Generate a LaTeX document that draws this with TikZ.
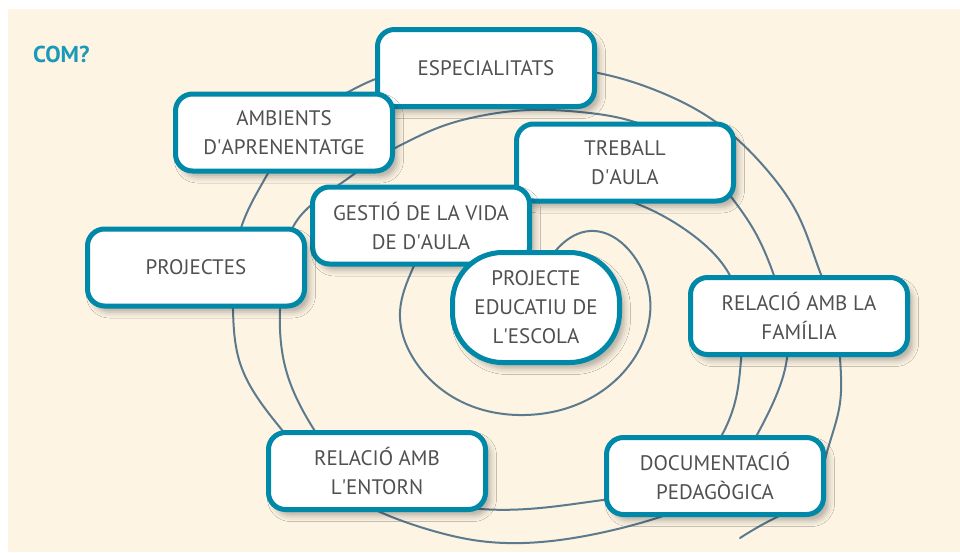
\documentclass[tikz,border=0pt]{standalone}
\usepackage{fontspec}
\setmainfont{PT Sans}
\usetikzlibrary{shadows.blur, hobby}
\definecolor{cream}{HTML}{FDF4E3}
\definecolor{tealline}{HTML}{0088A9}
\definecolor{tealtext}{HTML}{1A9AB7}
\definecolor{spiral}{HTML}{5C7A8E}
\definecolor{boxtext}{HTML}{505050}

\begin{document}
\begin{tikzpicture}[x=1pt, y=-1pt,
    box/.style={draw=tealline, line width=5pt, fill=white, rounded corners=17pt,
        minimum width=217pt, minimum height=77pt, inner sep=0pt, align=center,
        text=boxtext, font=\fontsize{21}{29}\selectfont,
        blur shadow={shadow xshift=5pt, shadow yshift=-6pt, shadow blur radius=6pt, shadow opacity=30}},
    core/.style={box, rounded corners=50pt, minimum width=167pt, minimum height=110pt},
    title/.style={text=tealtext, font=\fontsize{23}{27}\selectfont\bfseries, inner sep=0pt}]
            \useasboundingbox (0,0) rectangle (960,552);
            \fill[white] (0,0) rectangle (960,552);
            \fill[cream] (8,9) rectangle (960,552);

            % spiral behind the boxes
            \draw[spiral, line width=2pt, line cap=round, use Hobby shortcut]
                (545,268) .. (560,246) .. (590,231) .. (633,255) .. (650,298) .. (633,360)
                .. (587,400) .. (525,415) .. (462,402) .. (415,361) .. (400,312) .. (413,268)
                .. (440,222) .. (500,190) .. (570,188) .. (640,205) .. (690,233) .. (728,272)
                .. (742,315) .. (741,360) .. (736,398) .. (723,433) .. (680,480) .. (603,500)
                .. (540,508) .. (470,508) .. (400,492) .. (340,462) .. (313,428) .. (286,370)
                .. (280,310) .. (284,265) .. (293,227) .. (320,198) .. (350,177) .. (375,159)
                .. (397,147) .. (440,127) .. (480,116) .. (530,110) .. (580,112) .. (628,120)
                .. (690,152) .. (732,198) .. (755,232) .. (772,270) .. (785,315) .. (787,358)
                .. (773,403) .. (758,433) .. (715,490) .. (657,518) .. (600,533) .. (523,543)
                .. (480,541) .. (430,530) .. (387,515) .. (330,482) .. (282,430) .. (240,363)
                .. (233,310) .. (234,265) .. (242,225) .. (267,175) .. (300,125) .. (352,90)
                .. (373,80) .. (430,68) .. (530,66) .. (598,73) .. (660,92) .. (713,120)
                .. (767,170) .. (797,213) .. (820,272) .. (835,315) .. (840,358) .. (840,403)
                .. (827,452) .. (810,495) .. (775,518) .. (740,538);

            \node[title, anchor=base west] (com) at (33,62) {COM?};

            \node[box] (esp) at (486,68) {ESPECIALITATS};
            \node[box] (amb) at (284,132.5) {AMBIENTS\\D\textquotesingle APRENENTATGE};
            \node[box] (treb) at (625,162.5) {TREBALL\\D\textquotesingle AULA};
            \node[box] (gest) at (421,225.5) {GESTIÓ DE LA VIDA\\DE D\textquotesingle AULA};
            \node[core] (pec) at (536,307.5) {PROJECTE\\EDUCATIU DE\\L\textquotesingle ESCOLA};
            \node[box] (proj) at (196,267.5) {PROJECTES};
            \node[box] (fam) at (799,316) {RELACIÓ AMB LA\\FAMÍLIA};
            \node[box] (doc) at (715,476) {DOCUMENTACIÓ\\PEDAGÒGICA};
            \node[box] (ent) at (377,471) {RELACIÓ AMB\\L\textquotesingle ENTORN};
        \end{tikzpicture}
\end{document}
